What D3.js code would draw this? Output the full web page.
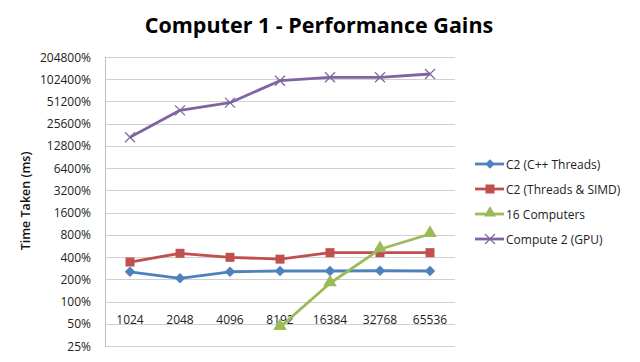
<!DOCTYPE html>
<html>
<head>
<meta charset="utf-8">
<title>Computer 1 - Performance Gains</title>
<script src="https://cdn.jsdelivr.net/npm/d3@7"></script>
<style>
  body { margin: 0; background: #fff; }
  text { font-family: "Open Sans", "Liberation Sans", sans-serif; }
</style>
</head>
<body>
<div id="chart"></div>
<script>
// categories (problem size)
var sizes = ["1024", "2048", "4096", "8192", "16384", "32768", "65536"];
// y tick values (percent)
var yTicks = [25, 50, 100, 200, 400, 800, 1600, 3200, 6400, 12800, 25600, 51200, 102400, 204800];

// series values (percent)
var cppThreads  = [253, 206, 253, 259, 259, 261, 259];
var threadsSimd = [343, 450, 397, 375, 459, 459, 459];
var computers16 = [null, null, null, 45, 177, 510, 822];
var gpu         = [16800, 38800, 49300, 97800, 108800, 108800, 120500];

var series = [
  { name: "C2 (C++ Threads)",    values: cppThreads,  color: "#4F81BD", marker: "diamond" },
  { name: "C2 (Threads & SIMD)", values: threadsSimd, color: "#C0504D", marker: "square" },
  { name: "16 Computers",        values: computers16, color: "#9BBB59", marker: "triangle" },
  { name: "Compute 2 (GPU)",     values: gpu,         color: "#8064A2", marker: "cross" }
];

var w = 640, h = 362;
var plotLeft = 105, plotRight = 455, plotTop = 57, plotBottom = 346;

var svg = d3.select("#chart").append("svg")
  .attr("width", w)
  .attr("height", h);

var x = d3.scaleBand().domain(sizes).range([plotLeft, plotRight]);
var y = d3.scaleLog().base(2).domain([25, 204800]).range([plotBottom, plotTop]);

// gridlines
svg.append("g")
  .selectAll("line")
  .data(yTicks)
  .enter()
  .append("line")
  .attr("x1", plotLeft)
  .attr("x2", plotRight)
  .attr("y1", function (d) { return Math.round(y(d)) + 0.5; })
  .attr("y2", function (d) { return Math.round(y(d)) + 0.5; })
  .attr("stroke", "#D0D0D0")
  .attr("stroke-width", 1);

// left axis
svg.append("line")
  .attr("x1", plotLeft + 0.5).attr("x2", plotLeft + 0.5)
  .attr("y1", plotTop).attr("y2", plotBottom)
  .attr("stroke", "#BFBFBF");

svg.append("g")
  .selectAll("text")
  .data(yTicks)
  .enter()
  .append("text")
  .attr("x", 91)
  .attr("y", function (d) { return y(d) + 4.5; })
  .attr("text-anchor", "end")
  .attr("font-size", "12px")
  .attr("fill", "#222")
  .text(function (d) { return d + "%"; });

// x labels sit just below the 100% line
svg.append("g")
  .selectAll("text")
  .data(sizes)
  .enter()
  .append("text")
  .attr("x", function (d) { return x(d) + x.bandwidth() / 2; })
  .attr("y", y(100) + 22)
  .attr("text-anchor", "middle")
  .attr("font-size", "12px")
  .attr("fill", "#222")
  .text(function (d) { return d; });

// title
svg.append("text")
  .attr("x", 319)
  .attr("y", 33)
  .attr("text-anchor", "middle")
  .attr("font-size", "21.5px")
  .attr("font-weight", "bold")
  .text("Computer 1 - Performance Gains");

// y axis title
svg.append("text")
  .attr("transform", "translate(30,201) rotate(-90)")
  .attr("text-anchor", "middle")
  .attr("font-size", "12.5px")
  .attr("font-weight", 600)
  .attr("fill", "#111")
  .text("Time Taken (ms)");

function drawMarker(g, type, color, cx, cy, s) {
  if (type === "diamond") {
    g.append("path")
      .attr("d", d3.symbol().type(d3.symbolDiamond2).size(s * 7)())
      .attr("transform", "translate(" + cx + "," + cy + ")")
      .attr("fill", color);
  } else if (type === "square") {
    g.append("rect")
      .attr("x", cx - 4.5).attr("y", cy - 4.5)
      .attr("width", 9).attr("height", 9)
      .attr("fill", color);
  } else if (type === "triangle") {
    g.append("path")
      .attr("d", d3.symbol().type(d3.symbolTriangle).size(s * 8)())
      .attr("transform", "translate(" + cx + "," + (cy - 1) + ")")
      .attr("fill", color);
  } else {
    g.append("path")
      .attr("d", "M-5,-5L5,5M-5,5L5,-5")
      .attr("transform", "translate(" + cx + "," + cy + ")")
      .attr("stroke", color)
      .attr("stroke-width", 1.2)
      .attr("fill", "none");
  }
}

var line = d3.line()
  .defined(function (d) { return d != null; })
  .x(function (d, i) { return x(sizes[i]) + x.bandwidth() / 2; })
  .y(function (d) { return y(d); });

series.forEach(function (s) {
  var g = svg.append("g");
  g.append("path")
    .attr("d", line(s.values))
    .attr("fill", "none")
    .attr("stroke", s.color)
    .attr("stroke-width", 2.8)
    .attr("stroke-linejoin", "round");
  s.values.forEach(function (v, i) {
    if (v == null) return;
    drawMarker(g, s.marker, s.color, x(sizes[i]) + x.bandwidth() / 2, y(v), 10);
  });
});

// legend
var legend = svg.append("g");
series.forEach(function (s, i) {
  var ly = 164 + i * 25;
  var g = legend.append("g");
  g.append("line")
    .attr("x1", 475).attr("x2", 504)
    .attr("y1", ly).attr("y2", ly)
    .attr("stroke", s.color)
    .attr("stroke-width", 2.8);
  drawMarker(g, s.marker, s.color, 490, ly, 8);
  g.append("text")
    .attr("x", 506)
    .attr("y", ly + 4.5)
    .attr("font-size", "12px")
    .attr("fill", "#222")
    .text(s.name);
});
</script>
</body>
</html>
